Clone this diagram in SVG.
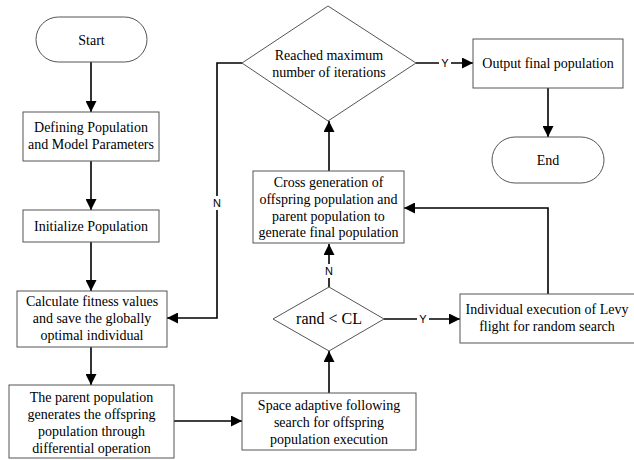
<svg xmlns="http://www.w3.org/2000/svg" width="634" height="460" viewBox="0 0 634 460">
<style>
.n{fill:#fff;stroke:#555;stroke-width:1}
.t{font-family:"Liberation Serif","Times New Roman",serif;font-size:14px;fill:#000;text-anchor:middle}
.c{fill:none;stroke:#000;stroke-width:1.6}
.l{font-family:"Liberation Sans",Arial,sans-serif;font-size:11px;fill:#000;text-anchor:middle}
</style>
<defs>
<marker id="a" viewBox="0 0 10 10" refX="10" refY="5" markerWidth="11" markerHeight="11" markerUnits="userSpaceOnUse" orient="auto">
<path d="M0,0L10,5L0,10z" fill="#000"/>
</marker>
</defs>
<rect width="634" height="460" fill="#fff"/>
<g id="connectors">
<path class="c" d="M91,62V112" marker-end="url(#a)"/>
<path class="c" d="M91,161V210" marker-end="url(#a)"/>
<path class="c" d="M91,242V291" marker-end="url(#a)"/>
<path class="c" d="M91,347V385" marker-end="url(#a)"/>
<path class="c" d="M174,421H242" marker-end="url(#a)"/>
<path class="c" d="M329,393V351" marker-end="url(#a)"/>
<path class="c" d="M329,287V244" marker-end="url(#a)"/>
<path class="c" d="M384,319H460" marker-end="url(#a)"/>
<path class="c" d="M548,294V208H404" marker-end="url(#a)"/>
<path class="c" d="M329,171V121" marker-end="url(#a)"/>
<path class="c" d="M242,63H217V318H167" marker-end="url(#a)"/>
<path class="c" d="M416,63H473" marker-end="url(#a)"/>
<path class="c" d="M548,88V137" marker-end="url(#a)"/>
<rect x="211" y="196" width="12" height="14" fill="#fff"/>
<text class="l" x="217" y="207">N</text>
<rect x="439" y="56" width="12" height="14" fill="#fff"/>
<text class="l" x="445" y="67">Y</text>
<rect x="323" y="264" width="12" height="14" fill="#fff"/>
<text class="l" x="329" y="275">N</text>
<rect x="417" y="312" width="12" height="14" fill="#fff"/>
<text class="l" x="423" y="323">Y</text>
</g>
<g id="start">
<rect class="n" x="36" y="17" width="111" height="45" rx="22.5"/>
<text class="t" x="91.5" y="44.5">Start</text>
</g>
<g id="define">
<rect class="n" x="23" y="112" width="136" height="49"/>
<text class="t" x="91" y="132">Defining Population</text>
<text class="t" x="91" y="149">and Model Parameters</text>
</g>
<g id="init">
<rect class="n" x="23" y="210" width="136" height="32"/>
<text class="t" x="91" y="231">Initialize Population</text>
</g>
<g id="fitness">
<rect class="n" x="17" y="291" width="150" height="56"/>
<text class="t" x="92" y="306">Calculate fitness values</text>
<text class="t" x="92" y="323">and save the globally</text>
<text class="t" x="92" y="340">optimal individual</text>
</g>
<g id="parent">
<rect class="n" x="9" y="385" width="165" height="73"/>
<text class="t" x="91.5" y="402">The parent population</text>
<text class="t" x="91.5" y="419">generates the offspring</text>
<text class="t" x="91.5" y="436">population through</text>
<text class="t" x="91.5" y="453">differential operation</text>
</g>
<g id="space">
<rect class="n" x="242" y="393" width="174" height="57"/>
<text class="t" x="329" y="410">Space adaptive following</text>
<text class="t" x="329" y="427">search for offspring</text>
<text class="t" x="329" y="444">population execution</text>
</g>
<g id="randcl">
<polygon class="n" points="329,287 384,319 329,351 273,319"/>
<text class="t" x="329" y="324" style="font-size:16px">rand &lt; CL</text>
</g>
<g id="levy">
<rect class="n" x="460" y="294" width="180" height="49"/>
<text class="t" x="547" y="314">Individual execution of Levy</text>
<text class="t" x="547" y="331">flight for random search</text>
</g>
<g id="cross">
<rect class="n" x="253" y="171" width="151" height="72"/>
<text class="t" x="328.5" y="187">Cross generation of</text>
<text class="t" x="328.5" y="204">offspring population and</text>
<text class="t" x="328.5" y="221">parent population to</text>
<text class="t" x="328.5" y="237">generate final population</text>
</g>
<g id="maxiter">
<polygon class="n" points="328,6 416,63 328,121 242,63"/>
<text class="t" x="329" y="60">Reached maximum</text>
<text class="t" x="329" y="77">number of iterations</text>
</g>
<g id="output">
<rect class="n" x="473" y="39" width="150" height="49"/>
<text class="t" x="548" y="68">Output final population</text>
</g>
<g id="end">
<rect class="n" x="492" y="137" width="112" height="46" rx="23"/>
<text class="t" x="548" y="165">End</text>
</g>
</svg>
